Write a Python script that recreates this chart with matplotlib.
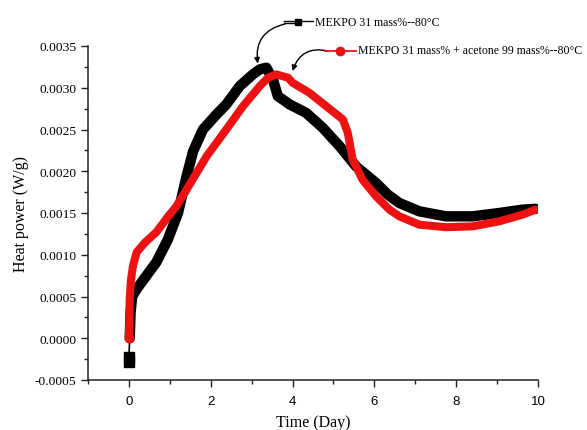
import matplotlib
matplotlib.use("Agg")
import matplotlib.pyplot as plt
from matplotlib.lines import Line2D
from matplotlib.ticker import MultipleLocator

# ---- data ----
black_x = [0, 0, 0.02, 0.04, 0.08, 0.19, 0.43, 0.67, 0.95, 1.2, 1.41, 1.57, 1.81, 2.14,
           2.38, 2.71, 3.03, 3.2, 3.36, 3.52, 3.64, 3.93, 4.33, 4.74, 5.15, 5.55, 6.04,
           6.33, 6.61, 7.1, 7.75, 8.4, 9.05, 9.62, 9.94]
black_y = [-0.00028, -0.00022, 0.0, 0.0003, 0.0005, 0.00059, 0.00075, 0.00091, 0.00118,
           0.0015, 0.00194, 0.00224, 0.0025, 0.00268, 0.0028, 0.00302, 0.00316, 0.00322,
           0.00324, 0.0031, 0.0029, 0.0028, 0.0027, 0.00252, 0.0023, 0.00206, 0.00186,
           0.00172, 0.00162, 0.00152, 0.00146, 0.00146, 0.0015, 0.00154, 0.00155]
red_x = [0, 0.02, 0.05, 0.1, 0.19, 0.4, 0.67, 0.96, 1.16, 1.41, 1.9, 2.38, 2.79, 3.2,
         3.4, 3.6, 3.89, 4.0, 4.41, 4.82, 5.23, 5.35, 5.47, 5.71, 6.04, 6.37, 6.61, 7.1,
         7.75, 8.4, 9.05, 9.62, 9.94]
red_y = [0.0, 0.00047, 0.0007, 0.00087, 0.00103, 0.00115, 0.00127, 0.00146, 0.00158,
         0.00178, 0.00218, 0.0025, 0.00278, 0.00302, 0.00312, 0.00316, 0.00312, 0.00306,
         0.00294, 0.00278, 0.00262, 0.00246, 0.00214, 0.0019, 0.0017, 0.00154, 0.00146,
         0.00136, 0.00133, 0.00134, 0.0014, 0.00148, 0.00154]
label_black = "MEKPO 31 mass%--80\u00b0C"
label_red = "MEKPO 31 mass% + acetone 99 mass%--80\u00b0C"
y_ticks = [-0.0005, 0.0, 0.0005, 0.0010, 0.0015, 0.0020, 0.0025, 0.0030, 0.0035]
x_ticks = [0, 2, 4, 6, 8, 10]

SERIF = "Liberation Serif"
SANS = "Liberation Sans"

W, H = 587, 431
fig = plt.figure(figsize=(W / 100, H / 100), dpi=100)
ax = fig.add_axes([88 / W, 1 - 381 / H, (538 - 88) / W, (381 - 47) / H])

# black series: thin connection from the first markers, then thick curve
ax.plot(black_x[:3], black_y[:3], color="black", lw=1.2, marker="s", ms=7,
        markevery=[0, 1], zorder=2)
ax.plot(black_x[2:], black_y[2:], color="black", lw=7.5, solid_capstyle="round",
        solid_joinstyle="round", zorder=2)
# red series
ax.plot(red_x, red_y, color="#ee1111", lw=5.8, solid_capstyle="round",
        solid_joinstyle="round", zorder=3)
ax.plot(red_x[:1], red_y[:1], color="#ee1111", marker="o", ms=6, ls="none", zorder=4)

ax.set_xlim(-1, 10)
ax.set_ylim(-0.0005, 0.0035)
ax.set_xticks(x_ticks)
ax.set_yticks(y_ticks)
ax.set_yticklabels([f"{v:.4f}" for v in y_ticks], fontfamily=SERIF, fontsize=9.7)
ax.set_xticklabels([str(v) for v in x_ticks], fontfamily=SANS, fontsize=9.5)
ax.xaxis.set_minor_locator(MultipleLocator(1))
ax.yaxis.set_minor_locator(MultipleLocator(0.00025))
ax.tick_params(which="major", direction="out", length=5, width=1, color="#222222")
ax.tick_params(which="minor", direction="out", length=3, width=1, color="#222222")
ax.tick_params(axis="x", pad=6)
for s in ("top", "right"):
    ax.spines[s].set_visible(False)
for s in ("left", "bottom"):
    ax.spines[s].set_linewidth(1.1)
    ax.spines[s].set_color("#222222")

ax.set_xlabel("Time (Day)", fontfamily=SERIF, fontsize=11.5, labelpad=5)
ax.set_ylabel("Heat power (W/g)", fontfamily=SERIF, fontsize=11.5, labelpad=4)

def fx(px):
    return px / W

def fy(py):
    return 1 - py / H

# legend-like labels at the top
fig.add_artist(Line2D([fx(284), fx(313)], [fy(21.5), fy(21.5)], color="black", lw=1))
fig.add_artist(Line2D([fx(284), fx(296)], [fy(24), fy(24)], color="black", lw=1))
fig.add_artist(Line2D([fx(298)], [fy(22.5)], color="black", marker="s", ms=5))
fig.text(fx(315), fy(22.5), label_black, fontfamily=SERIF, fontsize=8.5,
         va="center", ha="left")
fig.add_artist(Line2D([fx(325), fx(356)], [fy(51.5), fy(51.5)], color="#ee1111", lw=1.3))
fig.add_artist(Line2D([fx(340)], [fy(51.5)], color="#ee1111", marker="o", ms=6))
fig.text(fx(358), fy(51.5), label_red, fontfamily=SERIF, fontsize=8.5,
         va="center", ha="left")

# curved arrows
ax.annotate("", xy=(3.15, 0.00329), xycoords="data",
            xytext=(fx(285), fy(25)), textcoords="figure fraction",
            arrowprops=dict(arrowstyle="-|>", color="black", lw=1,
                            connectionstyle="arc3,rad=0.45", mutation_scale=8,
                            shrinkA=0, shrinkB=0))
ax.annotate("", xy=(4.0, 0.0032), xycoords="data",
            xytext=(fx(328), fy(52)), textcoords="figure fraction",
            arrowprops=dict(arrowstyle="-|>", color="black", lw=1,
                            connectionstyle="arc3,rad=0.45", mutation_scale=8,
                            shrinkA=0, shrinkB=0))

fig.savefig("out.png", dpi=100)
